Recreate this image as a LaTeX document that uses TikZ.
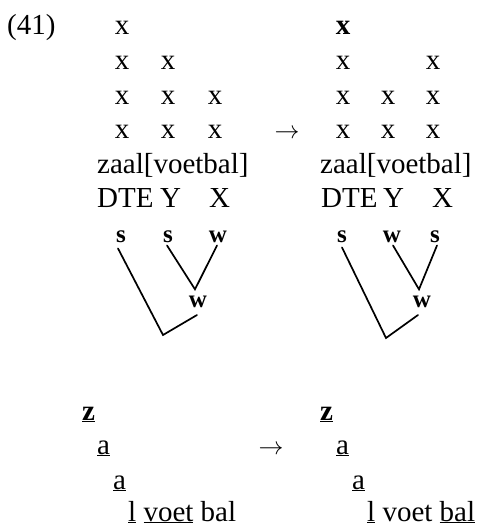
\documentclass[tikz,border=0pt]{standalone}
\usepackage{fontspec}
\setmainfont{Liberation Serif}
\begin{document}
\begin{tikzpicture}[x=1pt,y=-1pt,
  every node/.style={inner sep=0pt, anchor=base, font=\fontsize{29}{34}\selectfont},
  lab/.style={font=\fontsize{25}{30}\selectfont\bfseries},
  tree/.style={line width=1.7pt, line join=miter, line cap=round}]
\useasboundingbox (0,0) rectangle (480,527);
% number
\node[anchor=base west] (num) at (7,35) {(41)};
% left grid
\node (La1) at (122,35) {x};
\node (La2) at (122,69.5) {x};
\node (Lb2) at (168,69.5) {x};
\node (La3) at (122,104) {x};
\node (Lb3) at (168,104) {x};
\node (Lc3) at (215,104) {x};
\node (La4) at (122,138.5) {x};
\node (Lb4) at (168,138.5) {x};
\node (Lc4) at (215,138.5) {x};
% arrow
\node (arrTop) at (287,138.5) {$\rightarrow$};
% right grid
\node (Ra1) at (343,35) {\textbf{x}};
\node (Ra2) at (343,69.5) {x};
\node (Rc2) at (433,69.5) {x};
\node (Ra3) at (343,104) {x};
\node (Rb3) at (388,104) {x};
\node (Rc3) at (433,104) {x};
\node (Ra4) at (343,138.5) {x};
\node (Rb4) at (388,138.5) {x};
\node (Rc4) at (433,138.5) {x};
% words
\node[anchor=base west] (wordL) at (97,173.5) {zaal[voetbal]};
\node[anchor=base west] (wordR) at (320,173.5) {zaal[voetbal]};
\node[anchor=base west] (dteL) at (97,207) {DTE};
\node[anchor=base west] (yL) at (160,207) {Y};
\node[anchor=base west] (xL) at (209,207) {X};
\node[anchor=base west] (dteR) at (321,207) {DTE};
\node[anchor=base west] (yR) at (383,207) {Y};
\node[anchor=base west] (xR) at (432,207) {X};
% left tree
\node[lab] (s1L) at (121,242) {s};
\node[lab] (s2L) at (168,242) {s};
\node[lab] (w2L) at (218,242) {w};
\node[lab] (w3L) at (198,307) {w};
\coordinate (apexL) at (163,335);
\coordinate (endL) at (197,315);
\draw[tree] ([xshift=-3pt,yshift=-6pt]s1L.south) -- (apexL) -- (endL);
\draw[tree] ([xshift=-1pt,yshift=-3pt]s2L.south) -- ([xshift=-3pt,yshift=6pt]w3L.north) -- ([xshift=-1pt,yshift=-3pt]w2L.south);
% right tree
\node[lab] (s1R) at (342,242) {s};
\node[lab] (w2R) at (392,242) {w};
\node[lab] (s3R) at (435,242) {s};
\node[lab] (w3R) at (422,307) {w};
\coordinate (apexR) at (386,338);
\coordinate (endR) at (418,315);
\draw[tree] ([yshift=-5pt]s1R.south) -- (apexR) -- (endR);
\draw[tree] ([xshift=1pt,yshift=-3pt]w2R.south) -- ([xshift=-3pt,yshift=6pt]w3R.north) -- ([xshift=2pt,yshift=-3pt]s3R.south);
% bottom left
\node[anchor=base west] (zL) at (82,420) {\underline{\textbf{z}}};
\node[anchor=base west] (aL) at (97,454) {\underline{a}};
\node[anchor=base west] (a2L) at (113,489) {\underline{a}};
\node[anchor=base west] (lvbL) at (128,521) {\underline{l} \underline{voet} bal};
\node (arrBot) at (271,454) {$\rightarrow$};
% bottom right
\node[anchor=base west] (zR) at (320,420) {\underline{\textbf{z}}};
\node[anchor=base west] (aR) at (336,454) {\underline{a}};
\node[anchor=base west] (a2R) at (352,489) {\underline{a}};
\node[anchor=base west] (lvbR) at (367,521) {\underline{l} voet \underline{bal}};
\end{tikzpicture}
\end{document}
